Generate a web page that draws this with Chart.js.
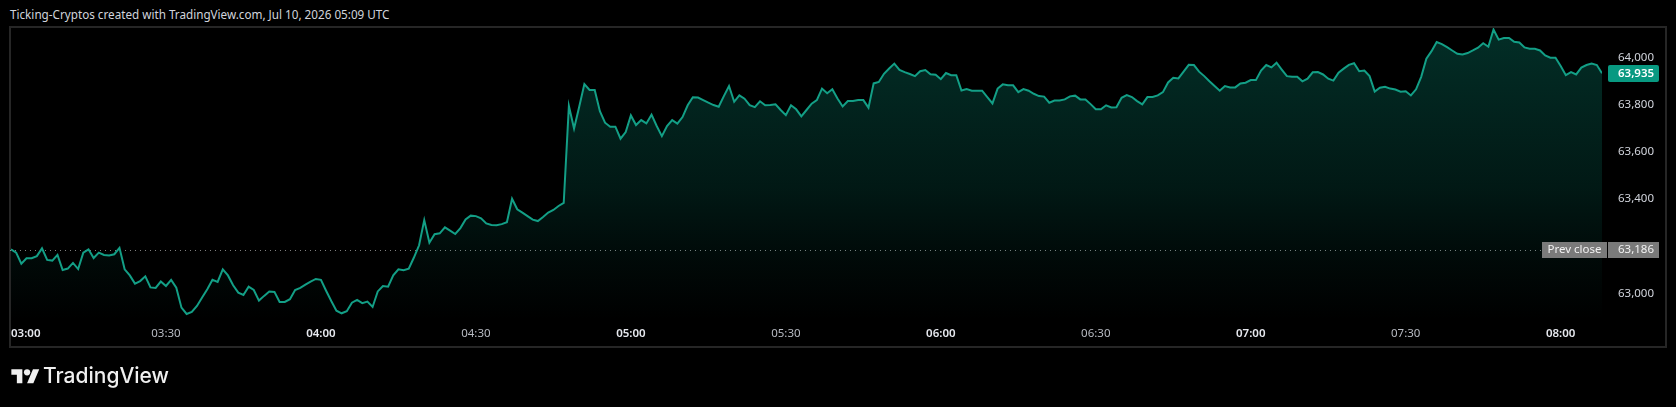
<!DOCTYPE html>
<html>
<head>
<meta charset="utf-8">
<script src="https://cdn.jsdelivr.net/npm/chart.js@4.4.1/dist/chart.umd.min.js"></script>
<style>
  html, body { margin: 0; padding: 0; background: #000; width: 1676px; height: 407px; overflow: hidden; }
  #title { position: absolute; left: 10px; top: 8px; font: 11.7px "Noto Sans", sans-serif; line-height: 12px; color: #d1d4dc; white-space: nowrap; }
  #pane { position: absolute; left: 9px; top: 26px; width: 1658px; height: 322px; box-sizing: border-box; border: 2px solid #262626; }
  #wrap { position: absolute; left: 0; top: 0; width: 1676px; height: 407px; }
  #logo { position: absolute; left: 11px; top: 366px; width: 29px; height: 22px; }
  #brand { position: absolute; left: 43px; top: 364.5px; font: 500 21px "Inter", sans-serif; line-height: 21px; color: #f0f0f0; white-space: nowrap; }
</style>
</head>
<body>
<div id="title">Ticking-Cryptos created with TradingView.com, Jul 10, 2026 05:09 UTC</div>
<div id="pane"></div>
<div id="wrap"><canvas id="c" width="1676" height="407"></canvas></div>
<svg id="logo" viewBox="0 0 36 28" xmlns="http://www.w3.org/2000/svg"><path fill="#f0f0f0" d="M14 22H7V11H0V4h14v18zM28 22h-8l7.5-18h8L28 22z"/><circle fill="#f0f0f0" cx="20" cy="8" r="4"/></svg>
<div id="brand">TradingView</div>
<script>
// ---- data ----
const timeLabels = ['03:00','03:30','04:00','04:30','05:00','05:30','06:00','06:30','07:00','07:30','08:00'];
const tickMinutes = [0,30,60,90,120,150,180,210,240,270,300];
const priceTicks = [63000,63200,63400,63600,63800,64000];
const prevClose = 63186;
const prices = [
63187,63173,63126,63149,63149,63158,63191,63142,63139,63163,
63099,63105,63129,63103,63173,63187,63150,63173,63163,63161,
63166,63193,63102,63076,63041,63052,63072,63025,63023,63050,
63031,63057,63024,62939,62912,62921,62946,62982,63017,63057,
63048,63102,63076,63034,63003,62993,63028,63014,62969,62989,
63008,63006,62963,62963,62975,63014,63023,63037,63050,63061,
63057,63011,62967,62926,62915,62924,62960,62972,62958,62965,
62942,63008,63031,63028,63076,63102,63098,63105,63152,63204,
63311,63215,63251,63255,63280,63266,63252,63277,63314,63330,
63328,63319,63297,63290,63289,63294,63302,63402,63357,63343,
63328,63313,63307,63324,63343,63354,63371,63384,63796,63700,
63793,63889,63864,63864,63774,63725,63708,63708,63657,63685,
63756,63715,63736,63722,63759,63711,63668,63711,63736,63721,
63749,63799,63833,63832,63821,63810,63800,63793,63838,63881,
63814,63841,63827,63800,63791,63816,63799,63800,63803,63779,
63757,63799,63782,63752,63779,63806,63821,63870,63850,63867,
63828,63794,63817,63817,63821,63821,63789,63892,63898,63933,
63955,63976,63949,63940,63932,63923,63944,63949,63931,63929,
63910,63936,63927,63927,63862,63868,63861,63861,63861,63834,
63807,63870,63888,63884,63884,63855,63868,63861,63848,63838,
63836,63810,63819,63819,63824,63837,63840,63824,63824,63804,
63782,63782,63799,63790,63791,63831,63842,63834,63817,63803,
63834,63834,63841,63855,63896,63916,63913,63942,63971,63970,
63942,63923,63901,63881,63861,63881,63875,63875,63892,63895,
63906,63906,63947,63970,63960,63980,63951,63923,63920,63920,
63901,63912,63939,63940,63930,63912,63904,63938,63955,63971,
63978,63944,63947,63923,63857,63874,63878,63870,63866,63857,
63859,63841,63867,63920,63997,64029,64068,64059,64046,64032,
64018,64015,64021,64032,64044,64063,64048,64121,64078,64085,
64085,64069,64066,64045,64039,64039,64032,64011,64001,64001,
63966,63927,63940,63930,63959,63970,63976,63970,63935
];

const LINE = '#139f86';
const lastIndex = prices.length - 1;

const overlay = {
  id: 'overlay',
  beforeDatasetsDraw(chart) {
    const { ctx, chartArea, scales: { y } } = chart;
    const yp = Math.round(y.getPixelForValue(prevClose)) + 0.5;
    ctx.save();
    ctx.strokeStyle = 'rgba(170,170,170,0.75)';
    ctx.lineWidth = 1;
    ctx.setLineDash([1, 4]);
    ctx.beginPath();
    ctx.moveTo(chartArea.left - 1, yp);
    ctx.lineTo(chartArea.right - 60, yp);
    ctx.stroke();
    ctx.restore();
  },
  afterDraw(chart) {
    const { ctx, chartArea, scales: { y } } = chart;
    const font = '11.5px "Noto Sans", sans-serif';
    ctx.save();
    ctx.textBaseline = 'middle';
    // prev close badges
    const yp = y.getPixelForValue(prevClose);
    ctx.fillStyle = '#7a7a7a';
    ctx.fillRect(chartArea.right - 60, Math.round(yp) - 8, 65, 16);
    ctx.fillRect(y.left + 6, Math.round(yp) - 8, 51, 16);
    ctx.fillStyle = '#f2f2f2';
    ctx.font = font;
    ctx.textAlign = 'center';
    ctx.fillText('Prev close', chartArea.right - 27.5, Math.round(yp));
    ctx.textAlign = 'left';
    ctx.fillText(prevClose.toLocaleString('en-US'), y.left + 16, Math.round(yp));
    // last price badge
    const last = prices[lastIndex];
    const yl = y.getPixelForValue(last);
    ctx.fillStyle = '#089981';
    ctx.beginPath();
    ctx.roundRect(y.left + 6, Math.round(yl) - 8, 51, 17, 2);
    ctx.fill();
    ctx.fillStyle = '#ffffff';
    ctx.font = '600 ' + font;
    ctx.fillText(last.toLocaleString('en-US'), y.left + 16, Math.round(yl) + 0.5);
    ctx.restore();
  }
};

new Chart(document.getElementById('c'), {
  type: 'line',
  data: {
    datasets: [{
      data: prices.map((v, i) => ({ x: i, y: v })),
      borderColor: LINE,
      borderWidth: 2,
      pointRadius: 0,
      tension: 0,
      fill: 'start',
      backgroundColor: (context) => {
        const { chart } = context;
        const { ctx, chartArea } = chart;
        if (!chartArea) return 'rgba(8,153,129,0.15)';
        const g = ctx.createLinearGradient(0, chartArea.top, 0, chartArea.bottom);
        g.addColorStop(0, 'rgba(8,153,129,0.30)');
        g.addColorStop(0.55, 'rgba(8,153,129,0.16)');
        g.addColorStop(0.8, 'rgba(8,153,129,0.06)');
        g.addColorStop(1, 'rgba(8,153,129,0.0)');
        return g;
      }
    }]
  },
  options: {
    responsive: false,
    animation: false,
    events: [],
    layout: { padding: { left: 11, right: 10, top: 28, bottom: 60 } },
    plugins: { legend: { display: false }, tooltip: { enabled: false } },
    scales: {
      x: {
        type: 'linear', min: 0, max: lastIndex, bounds: 'data',
        grid: { display: false, drawTicks: false }, border: { display: false },
        afterBuildTicks: (s) => { s.ticks = tickMinutes.map(v => ({ value: v })).concat([{ value: lastIndex }]); },
        afterFit: (s) => { s.height = 27; },
        ticks: {
          autoSkip: false, maxRotation: 0, minRotation: 0, align: 'inner', padding: 7,
          callback: (v) => { const k = tickMinutes.indexOf(v); return k >= 0 ? timeLabels[k] : ''; },
          color: (c) => (c.tick && c.tick.value % 60 === 0) ? '#e6e8ee' : '#b8bbc3',
          font: (c) => ({ family: '"Noto Sans", sans-serif', size: 11.5, weight: (c.tick && c.tick.value % 60 === 0) ? '600' : '400' })
        }
      },
      y: {
        position: 'right', min: 62886.5, max: 64127.5, bounds: 'data',
        grid: { display: false, drawTicks: false }, border: { display: false },
        afterBuildTicks: (s) => { s.ticks = priceTicks.map(v => ({ value: v })); },
        afterFit: (s) => { s.width = 64; },
        ticks: {
          padding: 16, color: '#d1d4dc',
          font: { family: '"Noto Sans", sans-serif', size: 11.5 },
          callback: (v) => Number(v).toLocaleString('en-US')
        }
      }
    }
  },
  plugins: [overlay]
});
</script>
</body>
</html>
